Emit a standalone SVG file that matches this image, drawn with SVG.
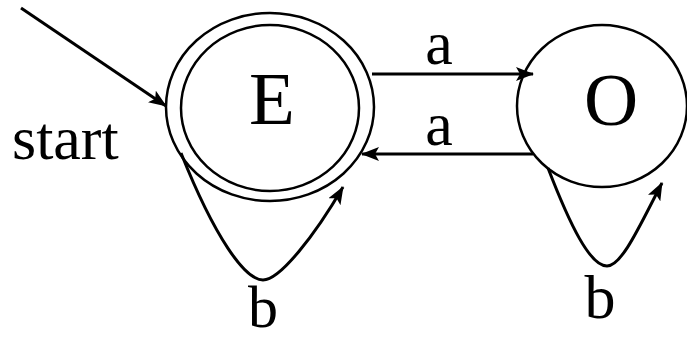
<svg xmlns="http://www.w3.org/2000/svg" width="687" height="340" viewBox="0 0 687 340">
<defs>
<marker id="ah" markerWidth="18" markerHeight="14" refX="17" refY="7" orient="auto" markerUnits="userSpaceOnUse">
<path d="M0,0 L18,7 L0,14 L4,7 Z" fill="#000"/>
</marker>
</defs>
<style>
.st{fill:#fff;stroke:#000;stroke-width:2.5}
text{font-family:'Liberation Serif','Times New Roman','DejaVu Serif',serif;fill:#000}
.lbl{font-size:62px}
.big{font-size:75px;text-anchor:middle}
.cn{fill:none;stroke:#000;stroke-width:3;marker-end:url(#ah)}
</style>
<rect width="687" height="340" fill="#fff"/>
<g id="E">
<ellipse class="st" cx="270" cy="107" rx="104" ry="94"/>
<ellipse class="st" cx="270" cy="108" rx="89" ry="83"/>
<text class="big" x="272" y="124">E</text>
</g>
<g id="O">
<ellipse class="st" cx="602" cy="106" rx="85" ry="81"/>
<text class="big" x="611" y="125">O</text>
</g>
<g id="connectors">
<path class="cn" d="M21,8 L166,106"/>
<path class="cn" d="M372,74 L533,74"/>
<path class="cn" d="M533,154 L362,154"/>
<path class="cn" d="M181,153 C215,238 245,280 263,280 C280,280 315,235 343,187"/>
<path class="cn" d="M548,168 C570,225 590,266 607,266 C622,266 640,225 662,183"/>
</g>
<g id="labels">
<text class="lbl" x="12" y="159">start</text>
<text class="lbl" x="439" y="64" text-anchor="middle">a</text>
<text class="lbl" x="439" y="145" text-anchor="middle">a</text>
<text class="lbl" x="263" y="327" text-anchor="middle" style="font-size:60px">b</text>
<text class="lbl" x="600" y="318" text-anchor="middle">b</text>
</g>
</svg>
